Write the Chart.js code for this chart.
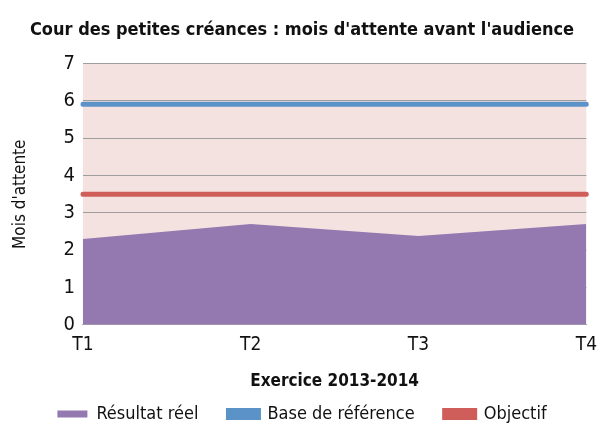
<!DOCTYPE html>
<html>
<head>
<meta charset="utf-8">
<script src="https://cdn.jsdelivr.net/npm/chart.js@4"></script>
<style>
  html, body { margin: 0; padding: 0; background: #fff; }
  #wrap { width: 598px; height: 436px; }
</style>
</head>
<body>
<div id="wrap"><canvas id="chart"></canvas></div>
<script>
const quarters = ['T1', 'T2', 'T3', 'T4'];
const actual = [2.3, 2.7, 2.38, 2.7];
const baseline = [5.91, 5.91, 5.91, 5.91];
const target = [3.5, 3.5, 3.5, 3.5];

const fontFamily = "'DejaVu Sans Condensed', 'Liberation Sans Narrow', 'Roboto', sans-serif";

// pink fill behind the plot area
const plotBg = {
    id: 'plotBg',
    beforeDraw(chart) {
        const {ctx, chartArea: a} = chart;
        ctx.save();
        ctx.fillStyle = '#f4e2e1';
        ctx.fillRect(a.left, a.top, a.right - a.left, a.bottom - a.top);
        ctx.restore();
    }
};

const ctx = document.getElementById('chart');
new Chart(ctx, {
    type: 'line',
    data: {
        labels: quarters,
        datasets: [{
            label: 'Résultat réel',
            data: actual,
            borderWidth: 0,
            borderColor: '#9379b0',
            backgroundColor: '#9379b0',
            fill: 'origin',
            pointRadius: 0,
            order: 3
        }, {
            label: 'Base de référence',
            data: baseline,
            borderColor: '#5b93c9',
            backgroundColor: '#5b93c9',
            borderWidth: 5,
            borderCapStyle: 'round',
            fill: false,
            pointRadius: 0,
            order: 1
        }, {
            label: 'Objectif',
            data: target,
            borderColor: '#cf5e5a',
            backgroundColor: '#cf5e5a',
            borderWidth: 5,
            borderCapStyle: 'round',
            fill: false,
            pointRadius: 0,
            order: 2
        }]
    },
    options: {
        responsive: true,
        maintainAspectRatio: false,
        animation: false,
        layout: { padding: { left: 6, right: 0, top: 4, bottom: 3 } },
        plugins: {
            title: {
                display: true,
                text: "Cour des petites créances : mois d'attente avant l'audience",
                color: '#111',
                font: { family: fontFamily, size: 18, weight: 'bold' },
                padding: { top: 16, bottom: 22 }
            },
            legend: {
                position: 'bottom',
                labels: {
                    color: '#111',
                    font: { family: fontFamily, size: 18 },
                    boxWidth: 30,
                    boxHeight: 7,
                    padding: 30,
                    sort: (a, b) => a.datasetIndex - b.datasetIndex
                }
            },
            tooltip: { enabled: false }
        },
        scales: {
            x: {
                offset: false,
                grid: { display: false },
                border: { color: '#aaa' },
                ticks: { color: '#111', font: { family: fontFamily, size: 19 }, padding: 1, maxRotation: 0 },
                title: {
                    display: true,
                    text: 'Exercice 2013-2014',
                    color: '#111',
                    font: { family: fontFamily, size: 17, weight: 'bold' },
                    // negative bottom lets the title sit in the legend's top padding
                    padding: { top: 14, bottom: -17 }
                }
            },
            y: {
                min: 0,
                max: 7,
                ticks: { stepSize: 1, autoSkip: false, color: '#111', font: { family: fontFamily, size: 20 }, padding: 8 },
                grid: { color: '#9e9e9e', drawTicks: false },
                border: { display: false },
                title: {
                    display: true,
                    text: "Mois d'attente",
                    color: '#111',
                    font: { family: fontFamily, size: 17 },
                    padding: { top: 4, bottom: 25 }
                }
            }
        }
    },
    plugins: [plotBg]
});
</script>
</body>
</html>
